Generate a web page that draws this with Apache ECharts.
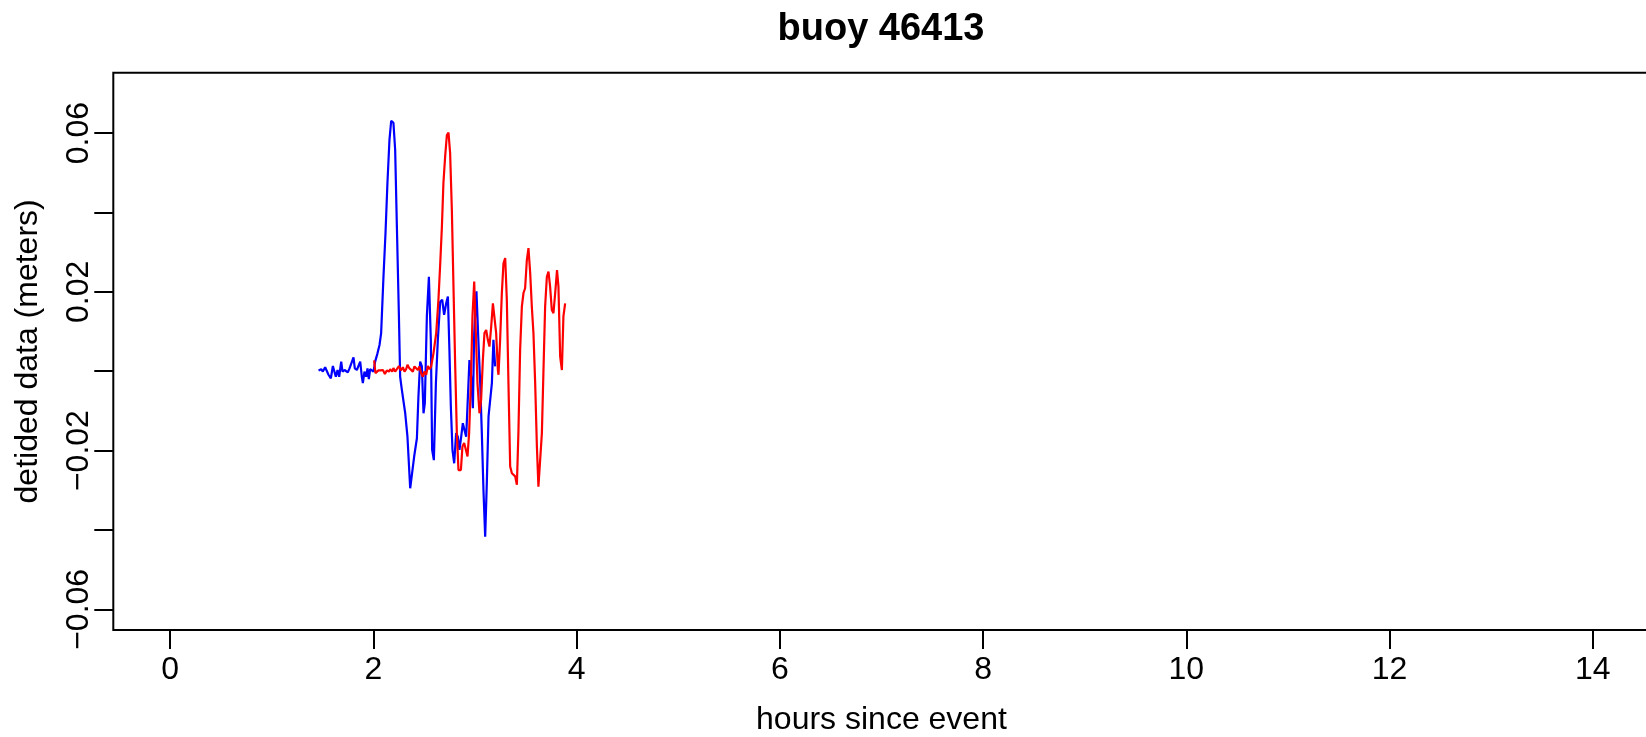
<!DOCTYPE html>
<html>
<head>
<meta charset="utf-8">
<script src="https://cdn.jsdelivr.net/npm/echarts@6/dist/echarts.min.js"></script>
<style>
html,body{margin:0;padding:0;background:#fff;}
#chart{width:1646px;height:737px;}
</style>
</head>
<body>
<div id="chart"></div>
<script>
const TITLE = 'buoy 46413';
const X_NAME = 'hours since event';
const Y_NAME = 'detided data (meters)';
const X_TICKS = [0, 2, 4, 6, 8, 10, 12, 14];
const Y_TICKS = [-0.06, -0.04, -0.02, 0, 0.02, 0.04, 0.06];
const Y_TICK_LABELS = [-0.06, -0.02, 0.02, 0.06];

const BLUE_HOURS = [1.460,1.486,1.502,1.525,1.542,1.558,1.581,1.601,1.617,1.630,1.647,1.663,1.683,1.696,1.716,1.732,1.748,1.765,1.784,1.804,1.817,1.837,1.853,1.870,1.886,1.896,1.912,1.929,1.942,1.955,1.968,1.985,2.001,2.017,
2.040,2.060,2.076,2.099,2.119,2.138,2.158,2.175,2.197,2.214,2.231,2.251,2.263,2.280,2.313,2.335,2.362,2.378,2.401,2.428,2.443,2.460,2.477,2.493,2.506,2.526,2.546,2.565,2.578,2.595,2.615,2.634,2.657,2.677,2.696,2.716,2.733,2.748,2.762,2.778,2.795,2.814,2.831,2.847,2.864,2.880,2.896,2.913,2.930,2.945,2.962,2.979,2.992,3.014,3.034,3.051,3.067,3.083,3.100,3.116,3.133,3.149,3.166,3.181,3.198];
const BLUE_VALUES = [0.0002,0.0005,-0.0001,0.0010,0.0006,-0.0009,-0.0018,0.0013,0.0016,-0.0014,0.0003,-0.0014,0.0024,-0.0001,0.0003,0.0005,-0.0003,0.0007,0.0005,0.0035,0.0007,0.0003,0.0005,0.0024,-0.0014,-0.0030,-0.0001,-0.0014,0.0007,-0.0020,0.0005,0.0002,-0.0001,0.0024,
0.0045,0.0066,0.0096,0.0238,0.0348,0.0474,0.0583,0.0631,0.0626,0.0558,0.0364,0.0138,-0.0014,-0.0047,-0.0106,-0.0165,-0.0295,-0.0297,-0.0215,-0.0169,-0.0064,0.0024,0.0012,-0.0106,-0.0081,0.0138,0.0238,0.0079,-0.0198,-0.0224,-0.0030,0.0079,0.0175,0.0180,0.0142,0.0171,0.0188,0.0054,-0.0089,-0.0198,-0.0232,-0.0156,-0.0165,-0.0198,-0.0165,-0.0131,-0.0148,-0.0165,-0.0064,0.0028,-0.0014,-0.0093,0.0096,0.0201,0.0071,-0.0030,-0.0156,-0.0299,-0.0417,-0.0282,-0.0114,-0.0114,-0.0030,0.0079,0.0012];

const RED_HOURS = [2.007,2.020,2.034,2.050,2.073,2.093,2.113,2.132,2.152,2.165,2.185,2.197,2.214,2.231,2.251,2.270,2.290,2.306,2.322,2.335,2.352,2.369,2.388,2.404,2.421,2.438,2.453,2.470,2.487,2.502,2.519,2.536,2.552,2.568,2.591,2.618,2.640,2.657,2.674,2.689,2.706,2.723,2.739,2.755,2.772,2.788,2.805,2.821,2.837,2.861,2.876,2.893,2.910,2.926,2.942,2.959,2.975,2.992,3.008,3.024,3.044,3.060,3.077,3.093,3.110,3.126,3.142,3.159,3.176,3.191,3.208,3.225,3.231,3.247,3.264,3.280,3.297,3.313,3.329,3.346,3.363,3.378,3.395,3.412,3.427,3.444,3.461,3.477,3.493,3.510,3.526,3.543,3.559,3.575,3.592,3.609,3.624,3.641,3.658,3.673,3.690,3.707,3.723,3.739,3.756,3.772,3.789,3.807,3.821,3.838,3.855,3.870,3.887];
const RED_VALUES = [0.0027,-0.0005,-0.0001,0.0002,0.0002,0.0003,-0.0007,0.0002,-0.0001,0.0005,-0.0001,0.0008,-0.0001,0.0005,0.0013,0.0002,0.0010,-0.0001,0.0005,0.0016,0.0008,0.0013,-0.0001,0.0012,0.0013,0.0003,0.0012,-0.0005,-0.0014,-0.0001,-0.0009,0.0013,0.0005,0.0012,0.0045,0.0096,0.0180,0.0268,0.0364,0.0474,0.0541,0.0595,0.0601,0.0549,0.0406,0.0213,0.0012,-0.0156,-0.0249,-0.0249,-0.0190,-0.0181,-0.0198,-0.0215,-0.0156,-0.0030,0.0138,0.0226,0.0096,-0.0030,-0.0106,-0.0072,0.0028,0.0096,0.0104,0.0079,0.0062,0.0112,0.0171,0.0170,0.0096,0.0003,-0.0009,0.0079,0.0197,0.0272,0.0285,0.0180,-0.0030,-0.0240,-0.0257,-0.0261,-0.0265,-0.0286,-0.0156,0.0054,0.0163,0.0197,0.0209,0.0280,0.0310,0.0247,0.0163,0.0096,-0.0030,-0.0190,-0.0291,-0.0292,-0.0156,-0.0005,0.0163,0.0238,0.0251,0.0213,0.0154,0.0146,0.0197,0.0255,0.0213,0.0037,0.0003,0.0138,0.0171];

function zip(a, b) { return a.map((v, i) => [v, b[i]]); }

const FONT = '"Liberation Sans", Arial, Helvetica, sans-serif';
const chart = echarts.init(document.getElementById('chart'), null, {renderer: 'canvas'});
chart.setOption({
  animation: false,
  backgroundColor: '#ffffff',
  title: {
    text: TITLE,
    left: 881,
    top: 11,
    padding: 0,
    textAlign: 'center',
    textStyle: {fontFamily: FONT, fontSize: 38, fontWeight: 'bold', color: '#000'}
  },
  grid: {
    left: 113.3, top: 72.7, width: 1536.3, height: 557.3,
    containLabel: false, outerBoundsMode: 'none',
    show: true, borderColor: '#000', borderWidth: 2, backgroundColor: 'transparent'
  },
  xAxis: {
    type: 'value', min: -0.56, max: 14.56,
    name: X_NAME, nameLocation: 'middle', nameGap: 74,
    nameTextStyle: {fontFamily: FONT, fontSize: 32, color: '#000'},
    axisLine: {show: false, onZero: false},
    splitLine: {show: false},
    axisTick: {show: true, inside: false, length: 19, customValues: X_TICKS, lineStyle: {color: '#000', width: 2}},
    axisLabel: {show: true, margin: 24, customValues: X_TICKS, fontFamily: FONT, fontSize: 32, color: '#000',
      formatter: v => String(Math.round(v))}
  },
  yAxis: {
    type: 'value', min: -0.0652, max: 0.0752,
    name: Y_NAME, nameLocation: 'middle', nameGap: 69,
    nameTextStyle: {fontFamily: FONT, fontSize: 32, color: '#000'},
    axisLine: {show: false, onZero: false},
    splitLine: {show: false},
    axisTick: {show: true, inside: false, length: 19, customValues: Y_TICKS, lineStyle: {color: '#000', width: 2}},
    axisLabel: {show: true, margin: 18, rotate: 90, customValues: Y_TICK_LABELS, fontFamily: FONT, fontSize: 32, color: '#000',
      formatter: v => v.toFixed(2).replace('-', '\u2212')}
  },
  series: [
    {type: 'line', data: zip(BLUE_HOURS, BLUE_VALUES), showSymbol: false, symbol: 'none',
     lineStyle: {color: '#0000ff', width: 2.2}, itemStyle: {color: '#0000ff'}, silent: true},
    {type: 'line', data: zip(RED_HOURS, RED_VALUES), showSymbol: false, symbol: 'none',
     lineStyle: {color: '#ff0000', width: 2.2}, itemStyle: {color: '#ff0000'}, silent: true}
  ]
});
</script>
</body>
</html>
